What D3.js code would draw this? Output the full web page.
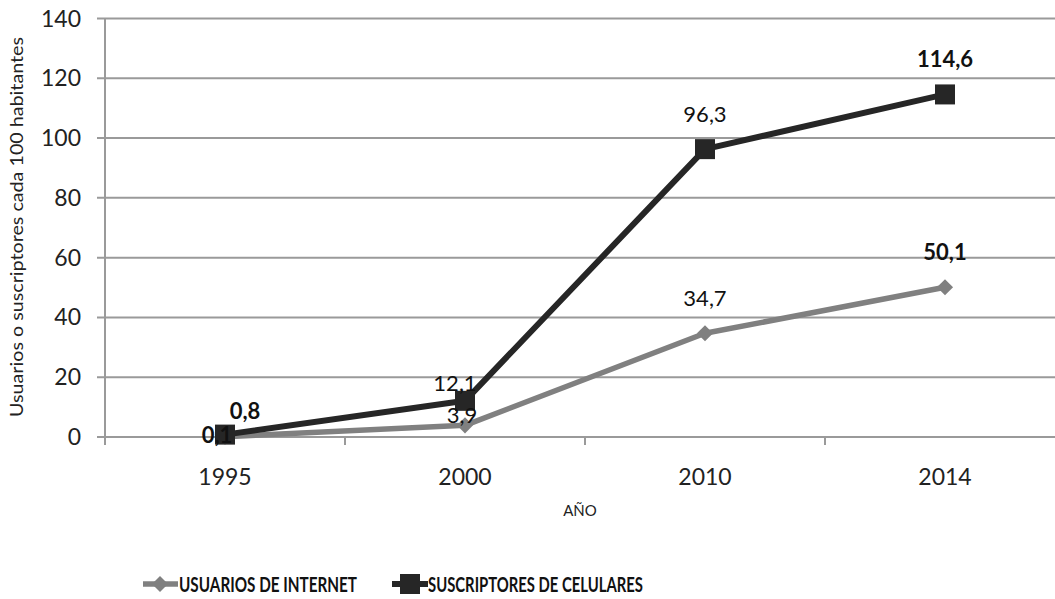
<!DOCTYPE html>
<html><head><meta charset="utf-8">
<script src="https://cdn.jsdelivr.net/npm/d3@7"></script>
<style>body{margin:0;background:#fff}svg{display:block}text{font-family:Lato,"Open Sans",sans-serif}</style>
</head><body><svg id="c" width="1055" height="599"></svg>
<script>
const categories = ["1995","2000","2010","2014"];
const internet = [0.1, 3.9, 34.7, 50.1];
const celulares = [0.8, 12.1, 96.3, 114.6];
const internetLabels = ["0,1","3,9","34,7","50,1"];
const celularesLabels = ["0,8","12,1","96,3","114,6"];
const boldLabel = [true,false,false,true];
const yTicks = [0,20,40,60,80,100,120,140];
// label placement keys (not positions): per point
const internetPlace = ["left","below","above","above"];
const celularesPlace = ["rightAbove","leftAbove","above","above"];

const svg = d3.select("#c");
const m = {l:105, t:18.5};
const W = 960, H = 418.5;
const x = d3.scaleBand().domain(categories).range([m.l, m.l+W]);
const y = d3.scaleLinear().domain([0,140]).range([m.t+H, m.t]);
const g = svg.append("g");

// gridlines
g.selectAll(".grid").data(yTicks).join("line")
  .attr("x1", m.l-8).attr("x2", m.l+W)
  .attr("y1", d=>y(d)).attr("y2", d=>y(d))
  .attr("stroke", "#9a9a9a").attr("stroke-width", 2);
// y axis line
g.append("line").attr("x1",m.l).attr("x2",m.l).attr("y1",y(140)).attr("y2",y(0)+8)
  .attr("stroke","#9a9a9a").attr("stroke-width",2);
// x ticks between categories
const bounds = categories.map(c=>x(c)).concat([m.l+W]);
g.selectAll(".xt").data(bounds).join("line")
  .attr("x1",d=>d).attr("x2",d=>d).attr("y1",y(0)).attr("y2",y(0)+8)
  .attr("stroke","#9a9a9a").attr("stroke-width",2);
// y tick labels
g.selectAll(".yl").data(yTicks).join("text")
  .attr("x", 81).attr("y", d=>y(d)+8).attr("text-anchor","end")
  .attr("font-size",23).attr("fill","#222").text(d=>d);
// x tick labels
const cx = c => x(c)+x.bandwidth()/2;
g.selectAll(".xl").data(categories).join("text")
  .attr("x", d=>cx(d)).attr("y", y(0)+48).attr("text-anchor","middle")
  .attr("font-size",23).attr("fill","#222").text(d=>d);
// axis titles
g.append("text").attr("transform",`translate(23,227) rotate(-90)`)
  .attr("text-anchor","middle").attr("font-size",18).attr("fill","#222")
  .attr("textLength",380).attr("lengthAdjust","spacingAndGlyphs")
  .text("Usuarios o suscriptores cada 100 habitantes");
g.append("text").attr("x",580).attr("y",516).attr("text-anchor","middle")
  .attr("font-size",15).attr("fill","#222").text("AÑO");

const line = d3.line().x((d,i)=>cx(categories[i])).y(d=>y(d));
const cInt = "#808080", cCel = "#262626";
g.append("path").attr("d", line(internet)).attr("fill","none").attr("stroke",cInt).attr("stroke-width",5.5).attr("stroke-linejoin","round");
g.append("path").attr("d", line(celulares)).attr("fill","none").attr("stroke",cCel).attr("stroke-width",6).attr("stroke-linejoin","round");

const diamond = d3.symbol().type(d3.symbolSquare).size(130);
g.selectAll(".dm").data(internet).join("path")
  .attr("d", diamond()).attr("fill",cInt)
  .attr("transform",(d,i)=>`translate(${cx(categories[i])},${y(d)}) rotate(45)`);
g.selectAll(".sq").data(celulares).join("rect")
  .attr("x",(d,i)=>cx(categories[i])-10).attr("y",d=>y(d)-10)
  .attr("width",20).attr("height",20).attr("fill",cCel);

const off = {
  above:[0,-27], left:[-8,6], below:[-3,-2], rightAbove:[20,-16], leftAbove:[-10,-10]
};
function labels(vals, txt, place){
  g.selectAll(null).data(vals).join("text")
    .attr("x",(d,i)=>cx(categories[i])+off[place[i]][0])
    .attr("y",(d,i)=>y(d)+off[place[i]][1])
    .attr("text-anchor","middle").attr("font-size",22).attr("fill","#111")
    .attr("font-weight",(d,i)=>boldLabel[i]?"bold":"normal")
    .text((d,i)=>txt[i]);
}
labels(internet, internetLabels, internetPlace);
labels(celulares, celularesLabels, celularesPlace);

// legend
const ly = 584;
const leg = svg.append("g");
leg.append("line").attr("x1",143).attr("x2",178).attr("y1",ly).attr("y2",ly).attr("stroke",cInt).attr("stroke-width",5.5);
leg.append("path").attr("d",diamond()).attr("fill",cInt).attr("transform",`translate(160,${ly}) rotate(45)`);
leg.append("text").attr("x",179).attr("y",ly+7.5).attr("font-size",20).attr("font-weight","bold").attr("fill","#111")
  .attr("textLength",178).attr("lengthAdjust","spacingAndGlyphs").text("USUARIOS DE INTERNET");
leg.append("line").attr("x1",392).attr("x2",428).attr("y1",ly).attr("y2",ly).attr("stroke",cCel).attr("stroke-width",6);
leg.append("rect").attr("x",400).attr("y",ly-10).attr("width",20).attr("height",20).attr("fill",cCel);
leg.append("text").attr("x",428).attr("y",ly+7.5).attr("font-size",20).attr("font-weight","bold").attr("fill","#111")
  .attr("textLength",215).attr("lengthAdjust","spacingAndGlyphs").text("SUSCRIPTORES DE CELULARES");
</script></body></html>
